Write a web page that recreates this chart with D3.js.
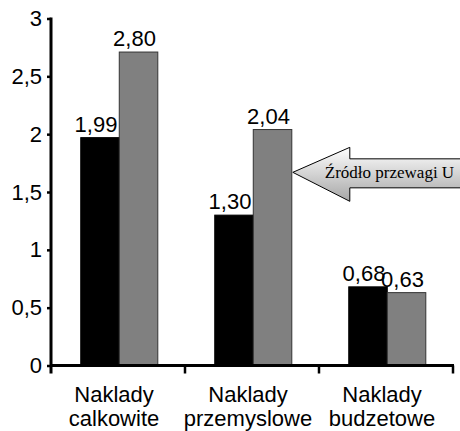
<!DOCTYPE html>
<html>
<head>
<meta charset="utf-8">
<script src="https://cdn.jsdelivr.net/npm/d3@7"></script>
<style>
  body { margin: 0; background: #fff; }
  svg { display: block; font-family: "Liberation Sans", Arial, sans-serif; }
</style>
</head>
<body>
<svg id="drawing_region"></svg>
<script>
// categories (two lines each)
const categories = [
    ["Naklady", "calkowite"],
    ["Naklady", "przemyslowe"],
    ["Naklady", "budzetowe"]
];
// bar heights as drawn, and the text printed above them
const series1 = [1.97, 1.30, 0.68];
const series2 = [2.71, 2.04, 0.63];
const labels1 = ["1,99", "1,30", "0,68"];
const labels2 = ["2,80", "2,04", "0,63"];
const yTicks = [0, 0.5, 1, 1.5, 2, 2.5, 3];
const yTickLabels = ["0", "0,5", "1", "1,5", "2", "2,5", "3"];
const calloutText = "Źródło przewagi U";
const calloutValue = 1.67;

const data = categories.map((c, i) => ({
    name: c.join(" "),
    lines: c,
    values: [
        { key: "s1", value: series1[i], label: labels1[i] },
        { key: "s2", value: series2[i], label: labels2[i] }
    ]
}));

class BarChart {
    constructor(config, data) {
        this.config = {
            parent: config.parent,
            width: config.width || 460,
            height: config.height || 431,
            margin: config.margin || {top: 18.5, right: 2, bottom: 65.5, left: 51}
        };
        this.data = data;
        this.init();
    }

    init() {
        let self = this;
        self.svg = d3.select(self.config.parent)
            .attr('width', self.config.width)
            .attr('height', self.config.height);

        self.chart = self.svg.append('g')
            .attr('transform', `translate(${self.config.margin.left}, ${self.config.margin.top})`);

        self.inner_width = self.config.width - self.config.margin.left - self.config.margin.right;
        self.inner_height = self.config.height - self.config.margin.top - self.config.margin.bottom;

        self.xscale = d3.scaleBand()
            .domain(self.data.map(d => d.name))
            .range([0, self.inner_width - 5]);

        self.x1scale = d3.scaleBand()
            .domain(["s1", "s2"])
            .range([self.xscale.bandwidth() * 0.222, self.xscale.bandwidth() * 0.797]);

        self.yscale = d3.scaleLinear()
            .domain([0, 3])
            .range([self.inner_height, 0]);

        self.colors = { s1: "#000000", s2: "#808080" };
    }

    render() {
        let self = this;
        const ih = self.inner_height;

        // bars
        const groups = self.chart.selectAll('.grp')
            .data(self.data)
            .join('g')
            .attr('class', 'grp')
            .attr('transform', d => `translate(${self.xscale(d.name)},0)`);

        groups.selectAll('rect')
            .data(d => d.values)
            .join('rect')
            .attr('x', d => self.x1scale(d.key))
            .attr('y', d => self.yscale(d.value))
            .attr('width', self.x1scale.bandwidth())
            .attr('height', d => ih - self.yscale(d.value))
            .attr('fill', d => self.colors[d.key])
            .attr('stroke', d => d.key === "s2" ? "#333" : "#000")
            .attr('stroke-width', 1);

        groups.selectAll('text.val')
            .data(d => d.values)
            .join('text')
            .attr('class', 'val')
            .attr('x', d => self.x1scale(d.key) + self.x1scale.bandwidth() / 2 - 4)
            .attr('y', d => self.yscale(d.value) - 6)
            .attr('text-anchor', 'middle')
            .attr('font-size', '22px')
            .attr('fill', '#000')
            .text(d => d.label);

        // y axis
        const yaxis = d3.axisLeft(self.yscale)
            .tickValues(yTicks)
            .tickFormat((d, i) => yTickLabels[i])
            .tickSize(4)
            .tickPadding(5);
        const yg = self.chart.append('g').call(yaxis);
        yg.select('.domain').remove();
        yg.selectAll('.tick line').attr('stroke', '#000').attr('stroke-width', 2.5);
        yg.selectAll('.tick text')
            .attr('font-size', '22px')
            .attr('font-family', '"Liberation Sans", Arial, sans-serif')
            .attr('fill', '#000');
        yg.append('line')
            .attr('x1', 0).attr('x2', 0)
            .attr('y1', self.yscale(3) - 1)
            .attr('y2', ih + 8)
            .attr('stroke', '#000')
            .attr('stroke-width', 3);

        // x axis
        const xr = self.xscale.range();
        self.chart.append('line')
            .attr('x1', 0).attr('x2', xr[1] + 1)
            .attr('y1', ih).attr('y2', ih)
            .attr('stroke', '#000')
            .attr('stroke-width', 3);
        const bounds = self.data.map(d => self.xscale(d.name) + self.xscale.bandwidth());
        self.chart.selectAll('.xtick')
            .data(bounds)
            .join('line')
            .attr('class', 'xtick')
            .attr('x1', d => d).attr('x2', d => d)
            .attr('y1', ih).attr('y2', ih + 8)
            .attr('stroke', '#000')
            .attr('stroke-width', 2.5);

        self.chart.selectAll('text.cat')
            .data(self.data)
            .join('text')
            .attr('class', 'cat')
            .attr('text-anchor', 'middle')
            .attr('font-size', '22px')
            .attr('fill', '#000')
            .attr('transform', d => `translate(${self.xscale(d.name) + self.xscale.bandwidth() / 2 - 4}, ${ih + 36})`)
            .selectAll('tspan')
            .data(d => d.lines)
            .join('tspan')
            .attr('x', 0)
            .attr('y', (d, i) => i * 24)
            .text(d => d);

        // callout arrow pointing at the second grey bar
        const defs = self.svg.append('defs');
        const grad = defs.append('linearGradient')
            .attr('id', 'arrowgrad')
            .attr('x1', 0).attr('y1', 0).attr('x2', 0).attr('y2', 1);
        grad.append('stop').attr('offset', '0%').attr('stop-color', '#ffffff');
        grad.append('stop').attr('offset', '100%').attr('stop-color', '#a6a6a6');

        const tipX = self.xscale(self.data[1].name) + self.x1scale("s2") + self.x1scale.bandwidth() + 1;
        const tipY = self.yscale(calloutValue);
        const headX = tipX + 57;
        const pts = [
            [tipX, tipY],
            [headX, tipY - 25],
            [headX, tipY - 13.5],
            [self.config.width + 20, tipY - 13.5],
            [self.config.width + 20, tipY + 15.5],
            [headX, tipY + 15.5],
            [headX, tipY + 29]
        ];
        self.chart.append('path')
            .attr('d', d3.line()(pts) + 'Z')
            .attr('fill', 'url(#arrowgrad)')
            .attr('stroke', '#000')
            .attr('stroke-width', 1);
        self.chart.append('text')
            .attr('x', tipX + 32)
            .attr('y', tipY + 6)
            .attr('font-family', '"Liberation Serif", "Times New Roman", serif')
            .attr('font-size', '17px')
            .attr('fill', '#000')
            .text(calloutText);
    }
}

const chart = new BarChart({ parent: '#drawing_region', width: 460, height: 431 }, data);
chart.render();
</script>
</body>
</html>
